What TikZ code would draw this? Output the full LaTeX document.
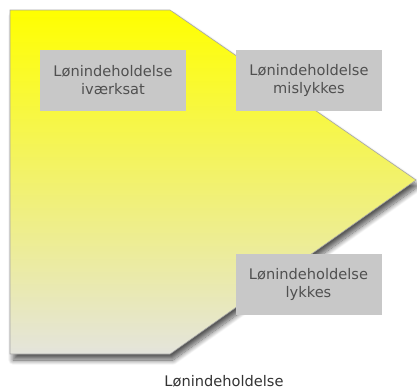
\documentclass[tikz,border=0pt]{standalone}
\usepackage{fontspec}
\setmainfont{DejaVu Sans}
\usetikzlibrary{shadows.blur}
\definecolor{boxgray}{HTML}{C8C8C8}
\definecolor{boxtext}{HTML}{505050}
\definecolor{paleend}{HTML}{E4E4DC}

\begin{document}
\begin{tikzpicture}[x=1pt,y=-1pt,
  every node/.style={font=\fontsize{14.6}{18}\selectfont},
  phase/.style={fill=boxgray,text=boxtext,align=center,minimum width=146pt,minimum height=61pt,inner sep=0pt},
  arrowbody/.style={draw=gray!70,line width=0.6pt,top color=yellow,bottom color=paleend,
    blur shadow={shadow xshift=3pt,shadow yshift=-6pt,shadow blur radius=5pt,shadow blur steps=12,shadow opacity=65}}]
\useasboundingbox (0,0) rectangle (417,389);
\path[arrowbody] (10,10) -- (170,10) -- (416,180) -- (170,354) -- (10,354) -- cycle;
\node[phase] (started) at (113,80.5) {Lønindeholdelse\\iværksat};
\node[phase] (failed) at (309,80.5) {Lønindeholdelse\\mislykkes};
\node[phase] (succeeded) at (308.5,284) {Lønindeholdelse\\lykkes};
\node[text=black!80] (title) at (224,381) {Lønindeholdelse};
\end{tikzpicture}
\end{document}
